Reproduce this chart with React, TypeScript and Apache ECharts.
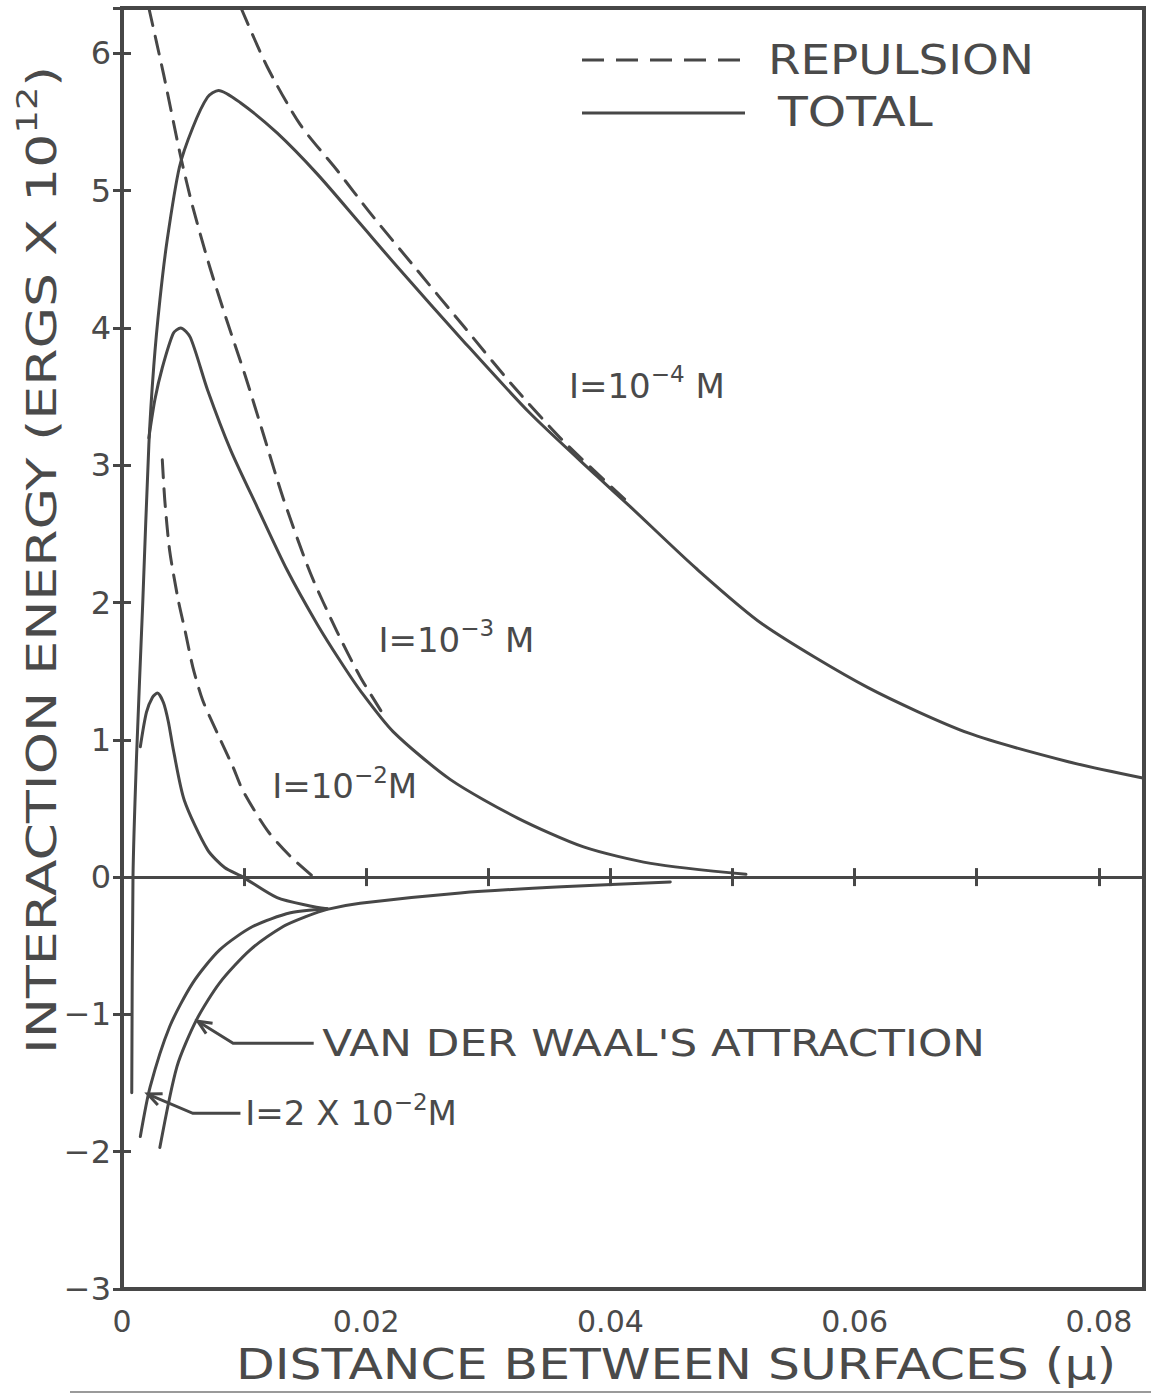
import React, { useEffect, useRef } from "react";
import * as echarts from "echarts";

type Pt = [number, number];

// ---- axes ----
const X_MIN = 0;
const X_MAX = 0.0837;
const Y_MIN = -3;
const Y_MAX = 6.33;
const xTickValues = [0, 0.02, 0.04, 0.06, 0.08];
const xTickLabels = ["0", "0.02", "0.04", "0.06", "0.08"];
const yTickValues = [-3, -2, -1, 0, 1, 2, 3, 4, 5, 6];
const yTickLabels = ["−3", "−2", "−1", "0", "1", "2", "3", "4", "5", "6"];

// ---- curves (distance in microns, energy in ergs x 10^12) ----
const total1e4: Pt[] = [
  [0.0008, -1.57], [0.0009, 0.0], [0.0012, 0.9], [0.0017, 2.0], [0.0022, 3.15],
  [0.0026, 3.72], [0.0031, 4.2], [0.0037, 4.64], [0.0047, 5.17], [0.0058, 5.46],
  [0.007, 5.68], [0.0079, 5.73], [0.0097, 5.64], [0.0127, 5.42], [0.016, 5.12],
  [0.0195, 4.76], [0.0226, 4.44], [0.028, 3.9], [0.0334, 3.38], [0.0389, 2.92],
  [0.0416, 2.7], [0.047, 2.25], [0.0525, 1.84], [0.0611, 1.38], [0.0693, 1.05],
  [0.0775, 0.84], [0.0837, 0.72],
];
const repulsion1e4: Pt[] = [
  [0.00975, 6.33], [0.0119, 5.9], [0.0146, 5.48], [0.0176, 5.15], [0.0203, 4.84],
  [0.0239, 4.45], [0.028, 4.01], [0.032, 3.58], [0.0361, 3.18], [0.0412, 2.75],
];
const total1e3: Pt[] = [
  [0.0022, 3.2], [0.0027, 3.48], [0.0033, 3.71], [0.0042, 3.96], [0.0048, 4.0],
  [0.0056, 3.93], [0.007, 3.55], [0.0089, 3.11], [0.0111, 2.69], [0.0135, 2.24],
  [0.016, 1.84], [0.0179, 1.57], [0.0195, 1.36], [0.0222, 1.06], [0.0269, 0.71],
  [0.0324, 0.43], [0.0378, 0.22], [0.0433, 0.1], [0.0511, 0.02],
];
const repulsion1e3: Pt[] = [
  [0.0022, 6.33], [0.0034, 5.85], [0.0048, 5.25], [0.0058, 4.88], [0.0072, 4.44],
  [0.0086, 4.05], [0.0101, 3.65], [0.0116, 3.22], [0.0132, 2.76], [0.0154, 2.22],
  [0.0176, 1.79], [0.0195, 1.46], [0.0215, 1.17],
];
const total1e2: Pt[] = [
  [0.0015, 0.95], [0.002, 1.2], [0.0025, 1.31], [0.0029, 1.34], [0.0034, 1.27],
  [0.0038, 1.13], [0.0042, 0.93], [0.0051, 0.56], [0.007, 0.2], [0.0084, 0.07],
  [0.0099, 0.0], [0.0127, -0.15], [0.0154, -0.21], [0.0168, -0.23],
];
const repulsion1e2: Pt[] = [
  [0.0033, 3.04], [0.0035, 2.75], [0.0039, 2.38], [0.0046, 2.02], [0.0052, 1.78],
  [0.0058, 1.53], [0.0066, 1.29], [0.0078, 1.05], [0.0091, 0.8], [0.0099, 0.63],
  [0.0119, 0.34], [0.0138, 0.15], [0.0157, 0.0],
];
const total2e2: Pt[] = [
  [0.0015, -1.89], [0.0023, -1.53], [0.0039, -1.09], [0.0058, -0.77], [0.008, -0.53],
  [0.0107, -0.36], [0.0138, -0.26], [0.0168, -0.23],
];
const attraction: Pt[] = [
  [0.0031, -1.97], [0.0045, -1.38], [0.0061, -1.04], [0.008, -0.77], [0.0105, -0.53],
  [0.0132, -0.36], [0.015, -0.29], [0.0168, -0.235], [0.0195, -0.19], [0.0277, -0.115],
  [0.036, -0.07], [0.0449, -0.035],
];

// ---- texts ----
const legendLabels = ["REPULSION", "TOTAL"];
const xTitle = "DISTANCE BETWEEN SURFACES (μ)";
const yTitleParts = ["INTERACTION ENERGY (ERGS X 10", "12", ")"];
const curveLabels = [
  { pre: "I=10", sup: "−4", post: " M", at: [0.0366, 3.58] as Pt },
  { pre: "I=10", sup: "−3", post: " M", at: [0.021, 1.73] as Pt },
  { pre: "I=10", sup: "−2", post: "M", at: [0.0123, 0.66] as Pt },
  { pre: "I=2 X 10", sup: "−2", post: "M", at: [0.0101, -1.72] as Pt },
];
const vdwLabel = { text: "VAN DER WAAL'S ATTRACTION", at: [0.0164, -1.21] as Pt };
const vdwLeader: Pt[] = [[0.0157, -1.21], [0.0091, -1.21], [0.0062, -1.05]];
const ionicLeader: Pt[] = [[0.0097, -1.72], [0.0058, -1.72], [0.0021, -1.58]];

const INK = "#474747";
const TEXT = "#4a4a4a";
const FONT = "'DejaVu Sans', 'Liberation Sans', sans-serif";

function labelFor(values: number[], labels: string[], v: number) {
  const i = values.findIndex((t) => Math.abs(t - v) < 1e-9);
  return i >= 0 ? labels[i] : "";
}

export default function App() {
  const ref = useRef<HTMLDivElement>(null);
  useEffect(() => {
    const prevMargin = document.body.style.margin;
    document.body.style.margin = "0";
    const chart = echarts.init(ref.current!, null, { renderer: "svg" });

    const line = (name: string, data: Pt[], dashed: boolean, extra: any = {}) => ({
      type: "line",
      name,
      data,
      symbol: "none",
      showSymbol: false,
      smooth: 0.25,
      clip: true,
      silent: true,
      z: dashed ? 3 : 4,
      lineStyle: { color: INK, width: 3, type: dashed ? [18, 11] : "solid", cap: "round", join: "round" },
      ...extra,
    });

    const tick = { show: true, inside: true, length: 9, lineStyle: { color: INK, width: 3 } };
    const baseX = {
      type: "value", min: X_MIN, max: X_MAX, interval: 0.01,
      axisLine: { show: false }, splitLine: { show: false }, axisTick: tick,
    };
    const baseY = {
      type: "value", min: Y_MIN, max: Y_MAX, interval: 1,
      axisLine: { show: false }, splitLine: { show: false }, axisTick: tick,
    };

    chart.setOption({
      animation: false,
      backgroundColor: "#ffffff",
      grid: { left: 122, right: 7, top: 8, bottom: 108, show: true, borderColor: INK, borderWidth: 4 },
      xAxis: [
        {
          ...baseX, position: "bottom",
          axisLabel: {
            margin: 17, fontSize: 30, color: TEXT, fontFamily: FONT,
            formatter: (v: number) => labelFor(xTickValues, xTickLabels, v),
          },
        },
        { ...baseX, position: "top", axisLabel: { show: false } },
      ],
      yAxis: [
        {
          ...baseY, position: "left",
          axisLabel: {
            margin: 11, fontSize: 32, color: TEXT, fontFamily: FONT,
            formatter: (v: number) => labelFor(yTickValues, yTickLabels, v),
          },
        },
        { ...baseY, position: "right", axisLabel: { show: false } },
      ],
      series: [
        line("I=10⁻⁴ M total", total1e4, false),
        line("I=10⁻⁴ M repulsion", repulsion1e4, true),
        line("I=10⁻³ M total", total1e3, false),
        line("I=10⁻³ M repulsion", repulsion1e3, true),
        line("I=10⁻² M total", total1e2, false),
        line("I=10⁻² M repulsion", repulsion1e2, true),
        line("I=2×10⁻² M total", total2e2, false),
        line("Van der Waal's attraction", attraction, false, {
          markLine: {
            silent: true, symbol: ["none", "none"], label: { show: false },
            lineStyle: { color: INK, width: 3, type: "solid" },
            data: [{ yAxis: 0 }],
          },
        }),
      ],
    });

    const P = (p: Pt) => chart.convertToPixel({ xAxisIndex: 0, yAxisIndex: 0 }, p) as number[];

    const arrowHead = (tip: number[], from: number[], size = 15, ang = 0.42) => {
      const dx = from[0] - tip[0];
      const dy = from[1] - tip[1];
      const L = Math.hypot(dx, dy) || 1;
      const ux = dx / L;
      const uy = dy / L;
      const rot = (a: number) => [
        tip[0] + size * (ux * Math.cos(a) - uy * Math.sin(a)),
        tip[1] + size * (ux * Math.sin(a) + uy * Math.cos(a)),
      ];
      return [rot(ang), tip, rot(-ang)];
    };

    const supRich = (main: number, sup: number, lh: number) => ({
      a: { fontSize: main, fontFamily: FONT, fill: TEXT, color: TEXT, lineHeight: lh },
      s: { fontSize: sup, fontFamily: FONT, fill: TEXT, color: TEXT, lineHeight: sup, verticalAlign: "top" },
    });

    const elements: any[] = [];

    // legend
    elements.push(
      { type: "line", shape: { x1: 582, y1: 60, x2: 745, y2: 60 }, style: { stroke: INK, lineWidth: 3, lineDash: [22, 12] }, silent: true },
      { type: "text", x: 768, y: 60, scaleX: 1.17, style: { text: legendLabels[0], fontSize: 40, fontFamily: FONT, fill: TEXT, textAlign: "left", verticalAlign: "middle", textVerticalAlign: "middle" }, silent: true },
      { type: "line", shape: { x1: 582, y1: 113, x2: 745, y2: 113 }, style: { stroke: INK, lineWidth: 3 }, silent: true },
      { type: "text", x: 778, y: 113, scaleX: 1.22, style: { text: legendLabels[1], fontSize: 40, fontFamily: FONT, fill: TEXT, textAlign: "left", verticalAlign: "middle", textVerticalAlign: "middle" }, silent: true },
    );

    // axis titles
    elements.push(
      {
        type: "text", x: 676, y: 1365, scaleX: 1.2, silent: true,
        style: { text: xTitle, fontSize: 42, fontFamily: FONT, fill: TEXT, textAlign: "center", verticalAlign: "middle", textVerticalAlign: "middle" },
      },
      {
        type: "text", x: 42, y: 560, rotation: Math.PI / 2, scaleX: 1.31, silent: true,
        style: {
          text: `{a|${yTitleParts[0]}}{s|${yTitleParts[1]}}{a|${yTitleParts[2]}}`,
          rich: supRich(41, 28, 56),
          fill: TEXT, textAlign: "center", verticalAlign: "middle", textVerticalAlign: "middle",
        },
      },
      { type: "line", shape: { x1: 70, y1: 1392, x2: 1151, y2: 1392 }, style: { stroke: "#9a9a9a", lineWidth: 2 }, silent: true },
    );

    // curve labels
    curveLabels.forEach((c) => {
      const p = P(c.at);
      elements.push({
        type: "text", x: p[0], y: p[1], silent: true,
        style: {
          text: `{a|${c.pre}}{s|${c.sup}}{a|${c.post}}`,
          rich: supRich(34, 23, 46),
          fill: TEXT, textAlign: "left", verticalAlign: "middle", textVerticalAlign: "middle",
        },
      });
    });
    const vp = P(vdwLabel.at);
    elements.push({
      type: "text", x: vp[0], y: vp[1], scaleX: 1.15, silent: true,
      style: { text: vdwLabel.text, fontSize: 38, fontFamily: FONT, fill: TEXT, textAlign: "left", verticalAlign: "middle", textVerticalAlign: "middle" },
    });

    // leaders with open arrowheads
    [vdwLeader, ionicLeader].forEach((ld) => {
      const pts = ld.map(P);
      elements.push({ type: "polyline", shape: { points: pts }, style: { stroke: INK, lineWidth: 3, fill: "none" }, silent: true });
      const tip = pts[pts.length - 1];
      const prev = pts[pts.length - 2];
      elements.push({ type: "polyline", shape: { points: arrowHead(tip, prev) }, style: { stroke: INK, lineWidth: 3, fill: "none" }, silent: true });
    });

    chart.setOption({ graphic: { elements } });

    return () => {
      chart.dispose();
      document.body.style.margin = prevMargin;
    };
  }, []);
  return <div ref={ref} style={{ width: 1151, height: 1397 }} />;
}
